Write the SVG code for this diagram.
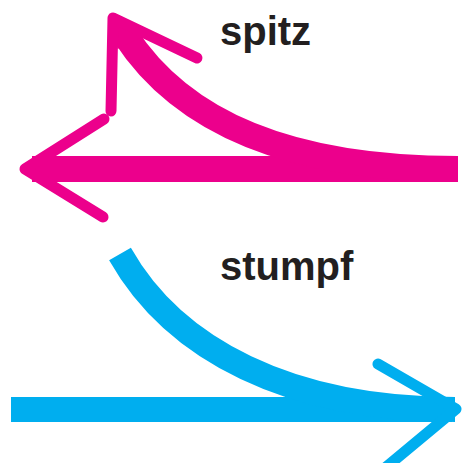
<svg xmlns="http://www.w3.org/2000/svg" width="462" height="463" viewBox="0 0 462 463">
<style>
.pk{stroke:#EC008C;fill:none}
.bl{stroke:#00AEEF;fill:none}
.band{stroke-linecap:butt}
.head{stroke-width:11;stroke-linecap:round;stroke-linejoin:round}
.lbl{font-family:"Liberation Sans",Arial,sans-serif;font-weight:bold;font-size:40px;fill:#231F20}
</style>
<rect width="462" height="463" fill="#ffffff"/>
<g id="connectors">
  <g id="spitz-arrows">
    <path class="pk band" stroke-width="26" d="M32,169 H458"/>
    <path class="pk band" stroke-width="26" d="M125,35 C182.2,123.1 290,169 458,169"/>
    <polygon fill="#EC008C" points="113,18 117.5,49 142,37"/>
    <polyline class="pk head" points="104,119 25,169 103,217"/>
    <polyline class="pk head" points="197,58 113,18 111,111"/>
  </g>
  <g id="stumpf-arrows">
    <path class="bl band" stroke-width="25" d="M11,409.5 H452"/>
    <path class="bl band" stroke-width="25" d="M120,254 C174,349.7 290,409.5 455,409.5"/>
    <polyline class="bl head" points="378,364 456,409 373,478"/>
  </g>
</g>
<g id="label-spitz"><text class="lbl" x="220" y="45">spitz</text></g>
<g id="label-stumpf"><text class="lbl" x="220" y="280">stumpf</text></g>
</svg>
